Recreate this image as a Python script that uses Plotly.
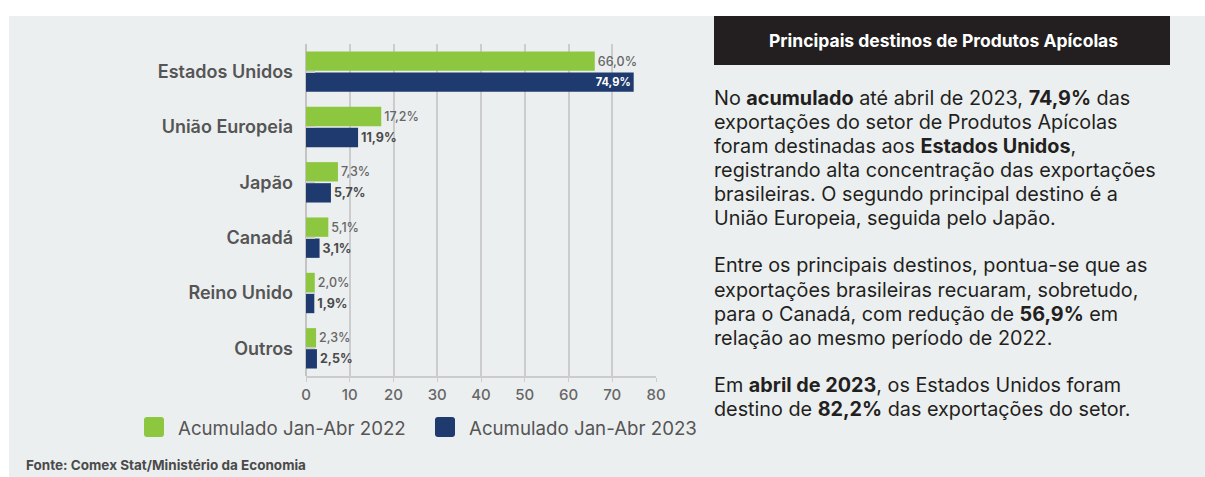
import plotly.graph_objects as go

categories = ["Estados Unidos", "União Europeia", "Japão", "Canadá", "Reino Unido", "Outros"]
v2022 = [66.0, 17.2, 7.3, 5.1, 2.0, 2.3]
v2023 = [74.9, 11.9, 5.7, 3.1, 1.9, 2.5]
series_names = ["Acumulado Jan-Abr 2022", "Acumulado Jan-Abr 2023"]
x_ticks = [0, 10, 20, 30, 40, 50, 60, 70, 80]

title_text = "Principais destinos de Produtos Apícolas"
source_text = "Fonte: Comex Stat/Ministério da Economia"
paragraphs = [
    ["No <b>acumulado</b> até abril de 2023, <b>74,9%</b> das",
     "exportações do setor de Produtos Apícolas",
     "foram destinadas aos <b>Estados Unidos</b>,",
     "registrando alta concentração das exportações",
     "brasileiras. O segundo principal destino é a",
     "União Europeia, seguida pelo Japão."],
    ["Entre os principais destinos, pontua-se que as",
     "exportações brasileiras recuaram, sobretudo,",
     "para o Canadá, com redução de <b>56,9%</b> em",
     "relação ao mesmo período de 2022."],
    ["Em <b>abril de 2023</b>, os Estados Unidos foram",
     "destino de <b>82,2%</b> das exportações do setor."],
]

# screen geometry (body margin removed via post_script)
W, H = 1205, 477
PL, PR, PT, PB = 306, 656, 44, 376
FONT = "Inter"
GREEN = "#8DC63F"
NAVY = "#1F3A6E"
BG = "#ECEFF0"


def px(x):
    return (x - PL) / (PR - PL)


def py(y):
    return (PB - y) / (PB - PT)


def fmt(v):
    return f"{v:.1f}".replace(".", ",") + "%"


def rounded_square(x0, y0, x1, y1, r=3):
    X = lambda v: f"{px(v):.5f}"
    Y = lambda v: f"{py(v):.5f}"
    return (f"M {X(x0 + r)},{Y(y0)} L {X(x1 - r)},{Y(y0)} Q {X(x1)},{Y(y0)} {X(x1)},{Y(y0 + r)} "
            f"L {X(x1)},{Y(y1 - r)} Q {X(x1)},{Y(y1)} {X(x1 - r)},{Y(y1)} "
            f"L {X(x0 + r)},{Y(y1)} Q {X(x0)},{Y(y1)} {X(x0)},{Y(y1 - r)} "
            f"L {X(x0)},{Y(y0 + r)} Q {X(x0)},{Y(y0)} {X(x0 + r)},{Y(y0)} Z")


pos23 = ["inside" if v > 70 else "outside" for v in v2023]

fig = go.Figure()
fig.add_trace(go.Bar(
    y=categories, x=v2022, orientation="h", name=series_names[0],
    marker=dict(color=GREEN, line=dict(width=0)),
    text=[fmt(v) for v in v2022], textposition="outside",
    outsidetextfont=dict(family=FONT, size=12.5, color="#666666", weight=500),
    cliponaxis=False, showlegend=False,
))
fig.add_trace(go.Bar(
    y=categories, x=v2023, orientation="h", name=series_names[1],
    marker=dict(color=NAVY, line=dict(width=0)),
    text=[f"<b>{fmt(v)}</b>" for v in v2023], textposition=pos23,
    insidetextanchor="end",
    insidetextfont=dict(family=FONT, size=12.5, color="white"),
    outsidetextfont=dict(family=FONT, size=12.5, color="#4a4a4a"),
    cliponaxis=False, showlegend=False,
))

shapes = [
    # white page strips around the grey panel
    dict(type="rect", xref="paper", yref="paper", x0=px(-10), x1=px(1220), y0=py(16), y1=py(-10),
         fillcolor="white", line=dict(width=0), layer="below"),
    dict(type="rect", xref="paper", yref="paper", x0=px(-10), x1=px(9), y0=py(490), y1=py(-10),
         fillcolor="white", line=dict(width=0), layer="below"),
    dict(type="rect", xref="paper", yref="paper", x0=px(714), x1=px(1170), y0=py(65), y1=py(16),
         fillcolor="#231F20", line=dict(width=0), layer="above"),
    dict(type="path", xref="paper", yref="paper", path=rounded_square(144, 417, 164, 437),
         fillcolor=GREEN, line=dict(width=0), layer="above"),
    dict(type="path", xref="paper", yref="paper", path=rounded_square(435, 417, 455, 437),
         fillcolor=NAVY, line=dict(width=0), layer="above"),
]

annotations = [
    dict(text=f"<b>{title_text}</b>", xref="paper", yref="paper", x=px(943), y=py(40),
         xanchor="center", yanchor="middle", showarrow=False,
         font=dict(family=FONT, size=17.5, color="white")),
    dict(text=f"<b>{source_text}</b>", xref="paper", yref="paper", x=px(24), y=py(465),
         xanchor="left", yanchor="middle", showarrow=False,
         font=dict(family=FONT, size=13.5, color="#4a4a4a")),
    dict(text=series_names[0], xref="paper", yref="paper", x=px(176), y=py(428),
         xanchor="left", yanchor="middle", showarrow=False,
         font=dict(family=FONT, size=18.7, color="#555555")),
    dict(text=series_names[1], xref="paper", yref="paper", x=px(467), y=py(428),
         xanchor="left", yanchor="middle", showarrow=False,
         font=dict(family=FONT, size=18.7, color="#555555")),
]
line_centers = [[97.5, 122, 146, 170, 194, 218], [265, 290, 314, 338], [385, 409]]
for para, ys in zip(paragraphs, line_centers):
    for line, yc in zip(para, ys):
        annotations.append(dict(text=line, xref="paper", yref="paper", x=px(712), y=py(yc),
                                xanchor="left", yanchor="middle", showarrow=False,
                                font=dict(family=FONT, size=19.8, color="#231F20")))

fig.update_layout(
    width=W, height=H,
    margin=dict(l=PL, r=W - PR, t=PT, b=H - PB, pad=0),
    paper_bgcolor=BG, plot_bgcolor="rgba(0,0,0,0)",
    barmode="group", bargap=0.24, bargroupgap=0.08,
    shapes=shapes, annotations=annotations,
    showlegend=False,
    xaxis=dict(range=[0, 80], tickvals=x_ticks, showgrid=True, gridcolor="#cccccc", gridwidth=1.5,
               showline=True, linecolor="#cccccc", linewidth=1.5, ticks="outside", ticklen=4,
               tickcolor="#cccccc", zeroline=True, zerolinecolor="#c4c4c4", zerolinewidth=2,
               tickfont=dict(family=FONT, size=15, color="#666666", weight=500), fixedrange=True),
    yaxis=dict(autorange="reversed", showgrid=False, ticks="inside", ticklen=9, tickcolor="#cccccc",
               tickwidth=1.5, ticklabelstandoff=12,
               tickfont=dict(family=FONT, size=18, color="#555555", weight=600), fixedrange=True),
)

fig.write_html("out.html", config={"displayModeBar": False},
               post_script=("document.documentElement.style.overflow='hidden';"
                            "document.body.style.margin='0';document.body.style.overflow='hidden';"))
